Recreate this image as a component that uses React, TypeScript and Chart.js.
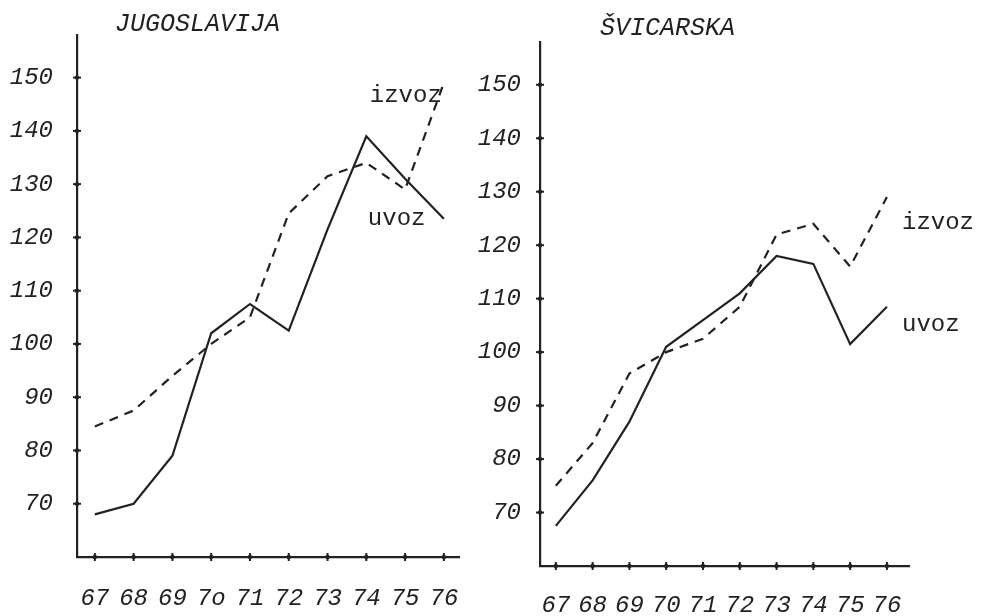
import React, { useEffect, useRef } from "react";
import { Chart, registerables } from "chart.js";

Chart.register(...registerables);

// ---- data ----
const years = [67, 68, 69, 70, 71, 72, 73, 74, 75, 76];
const jugYearLabels = ["67", "68", "69", "7o", "71", "72", "73", "74", "75", "76"];
const swiYearLabels = ["67", "68", "69", "70", "71", "72", "73", "74", "75", "76"];
const yTickValues = [70, 80, 90, 100, 110, 120, 130, 140, 150];

const jugUvoz = [68, 70, 79, 102, 107.5, 102.5, 121.5, 139, 131, 123.5];
const jugIzvoz = [84.5, 87.5, 94, 100, 105, 124.5, 131.5, 134, 129, 149];
const swiUvoz = [67.5, 76, 87, 101, 106, 111, 118, 116.5, 101.5, 108.5];
const swiIzvoz = [75, 83, 96, 100, 102.5, 108.5, 122, 124, 116, 129];

const jugTitle = "JUGOSLAVIJA";
const swiTitle = "ŠVICARSKA";
const izvozLabel = "izvoz";
const uvozLabel = "uvoz";

const INK = "#222222";
const TICK_FONT = "'Liberation Mono', 'DejaVu Sans Mono', monospace";

type PanelCfg = {
  width: number;
  left: number;
  labels: string[];
  uvoz: number[];
  izvoz: number[];
  xMin: number;
  xMax: number;
  yMin: number;
  yMax: number;
  padTop: number;
  padRight: number;
  yAxisWidth: number;
  xAxisHeight: number;
  yLabelPad: number;
  xLabelPad: number;
  title: string;
  titleDx: number;
  titleY: number;
  notes: { text: string; x: number; y: number }[];
};

const panels: PanelCfg[] = [
  {
    width: 470,
    left: 0,
    labels: jugYearLabels,
    uvoz: jugUvoz,
    izvoz: jugIzvoz,
    xMin: 66.54,
    xMax: 76.39,
    yMin: 60,
    yMax: 158,
    padTop: 35,
    padRight: 11,
    yAxisWidth: 77,
    xAxisHeight: 59,
    yLabelPad: 16,
    xLabelPad: 19,
    title: jugTitle,
    titleDx: 38,
    titleY: 24,
    notes: [
      { text: izvozLabel, x: 74.09, y: 146.7 },
      { text: uvozLabel, x: 74.04, y: 123.6 },
    ],
  },
  {
    width: 512,
    left: 470,
    labels: swiYearLabels,
    uvoz: swiUvoz,
    izvoz: swiIzvoz,
    xMin: 66.57,
    xMax: 76.6,
    yMin: 60,
    yMax: 158,
    padTop: 42,
    padRight: 73,
    yAxisWidth: 70,
    xAxisHeight: 50,
    yLabelPad: 11,
    xLabelPad: 17,
    title: swiTitle,
    titleDx: 60,
    titleY: 28,
    notes: [
      { text: izvozLabel, x: 76.41, y: 124.3 },
      { text: uvozLabel, x: 76.41, y: 105.1 },
    ],
  },
];

function makeDecor(cfg: PanelCfg) {
  return {
    id: "decor",
    afterDraw(chart: any) {
      const ctx = chart.ctx as CanvasRenderingContext2D;
      const xs = chart.scales.x;
      const ys = chart.scales.y;
      const area = chart.chartArea;
      ctx.save();
      ctx.strokeStyle = INK;
      ctx.fillStyle = INK;
      ctx.lineWidth = 2;
      ys.ticks.forEach((t: any) => {
        const py = ys.getPixelForValue(t.value);
        ctx.beginPath();
        ctx.moveTo(area.left - 4, py);
        ctx.lineTo(area.left + 4, py);
        ctx.stroke();
        ctx.beginPath();
        ctx.arc(area.left, py, 2.2, 0, Math.PI * 2);
        ctx.fill();
      });
      xs.ticks.forEach((t: any) => {
        const px = xs.getPixelForValue(t.value);
        ctx.beginPath();
        ctx.moveTo(px, area.bottom - 4);
        ctx.lineTo(px, area.bottom + 4);
        ctx.stroke();
        ctx.beginPath();
        ctx.arc(px, area.bottom, 2.2, 0, Math.PI * 2);
        ctx.fill();
      });
      ctx.font = `italic 25px ${TICK_FONT}`;
      ctx.textAlign = "left";
      ctx.textBaseline = "middle";
      ctx.fillText(cfg.title, area.left + cfg.titleDx, cfg.titleY);
      ctx.font = `24px ${TICK_FONT}`;
      cfg.notes.forEach((n) => {
        ctx.fillText(n.text, xs.getPixelForValue(n.x), ys.getPixelForValue(n.y));
      });
      ctx.restore();
    },
  };
}

function Panel({ cfg }: { cfg: PanelCfg }) {
  const ref = useRef<HTMLCanvasElement | null>(null);
  useEffect(() => {
    if (!ref.current) return;
    const chart = new Chart(ref.current, {
      type: "line",
      data: {
        datasets: [
          {
            label: uvozLabel,
            data: years.map((yr, i) => ({ x: yr, y: cfg.uvoz[i] })),
            borderColor: INK,
            borderWidth: 2.2,
            pointRadius: 0,
            tension: 0,
            fill: false,
          },
          {
            label: izvozLabel,
            data: years.map((yr, i) => ({ x: yr, y: cfg.izvoz[i] })),
            borderColor: INK,
            borderWidth: 2.2,
            borderDash: [9, 7],
            pointRadius: 0,
            tension: 0,
            fill: false,
          },
        ],
      },
      options: {
        responsive: false,
        animation: false,
        devicePixelRatio: 1,
        layout: { padding: { top: cfg.padTop, right: cfg.padRight, left: 0, bottom: 0 } },
        plugins: { legend: { display: false }, tooltip: { enabled: false }, title: { display: false } },
        scales: {
          x: {
            type: "linear",
            min: cfg.xMin,
            max: cfg.xMax,
            grid: { display: false },
            border: { display: true, color: INK, width: 2.2 },
            afterBuildTicks: (scale: any) => {
              scale.ticks = years.map((v) => ({ value: v }));
            },
            afterFit: (scale: any) => {
              scale.height = cfg.xAxisHeight;
              scale.paddingLeft = 0;
              scale.paddingRight = 0;
            },
            ticks: {
              autoSkip: false,
              maxRotation: 0,
              minRotation: 0,
              padding: cfg.xLabelPad,
              color: INK,
              font: { family: TICK_FONT, size: 24, style: "italic" },
              callback: (value: any) => {
                const idx = years.indexOf(Number(value));
                return idx >= 0 ? cfg.labels[idx] : "";
              },
            },
          },
          y: {
            type: "linear",
            min: cfg.yMin,
            max: cfg.yMax,
            grid: { display: false },
            border: { display: true, color: INK, width: 2.2 },
            afterBuildTicks: (scale: any) => {
              scale.ticks = yTickValues.map((v) => ({ value: v }));
            },
            afterFit: (scale: any) => {
              scale.width = cfg.yAxisWidth;
              scale.paddingTop = 0;
              scale.paddingBottom = 0;
            },
            ticks: {
              padding: cfg.yLabelPad,
              color: INK,
              font: { family: TICK_FONT, size: 24, style: "italic" },
              callback: (value: any) => String(value),
            },
          },
        },
      },
      plugins: [makeDecor(cfg)],
    } as any);
    return () => chart.destroy();
  }, [cfg]);
  return (
    <canvas
      ref={ref}
      width={cfg.width}
      height={616}
      style={{ position: "absolute", left: cfg.left, top: 0, width: cfg.width, height: 616 }}
    />
  );
}

export default function App() {
  return (
    <div
      style={{
        position: "fixed",
        left: 0,
        top: 0,
        width: 982,
        height: 616,
        background: "#ffffff",
        overflow: "hidden",
      }}
    >
      {panels.map((p, i) => (
        <Panel key={i} cfg={p} />
      ))}
    </div>
  );
}
